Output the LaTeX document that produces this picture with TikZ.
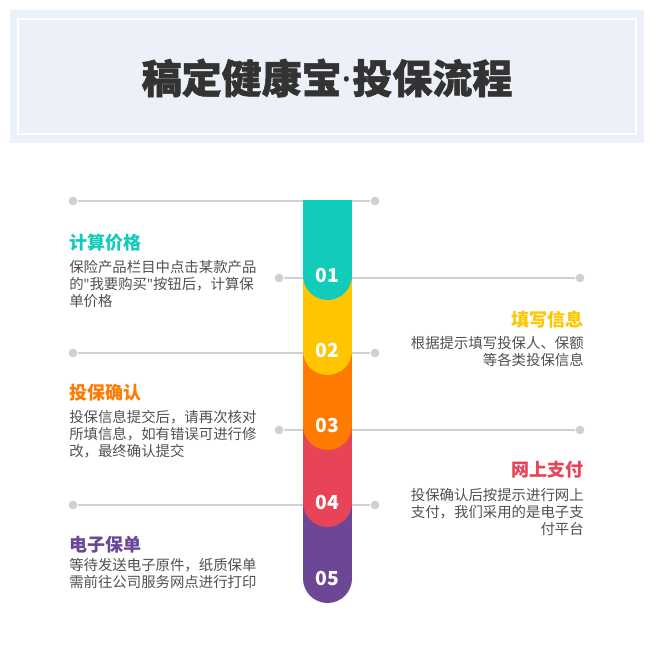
\documentclass[tikz,border=0pt]{standalone}
\usepackage{fontspec}
\setmainfont{Noto Sans CJK SC}
\newfontfamily\latinfont{Noto Sans}
\newfontfamily\heavyfont{Noto Sans CJK SC}[BoldFeatures={FakeBold=1.2}]
\definecolor{bandbg}{HTML}{ECF0F8}
\definecolor{titlegray}{HTML}{333333}
\definecolor{bodygray}{HTML}{505050}
\definecolor{linegray}{HTML}{D0D0D0}
\definecolor{stepteal}{HTML}{12CCBB}
\definecolor{stepyellow}{HTML}{FFC600}
\definecolor{steporange}{HTML}{FF7A00}
\definecolor{stepred}{HTML}{E84458}
\definecolor{steppurple}{HTML}{6B4796}

\begin{document}
\begin{tikzpicture}[x=0.75pt, y=-0.75pt,
    dot/.style={circle, fill=linegray, inner sep=0pt, minimum size=6.5pt},
    guide/.style={draw=linegray, line width=2pt},
    numdisc/.style={circle, inner sep=0pt, minimum size=36.75pt, text=white, font=\fontsize{14.5}{16}\selectfont\bfseries},
    steptitle/.style={inner sep=0pt, font=\fontsize{13.5}{16}\selectfont\bfseries},
    stepbody/.style={inner sep=0pt, text=bodygray, font=\fontsize{10.8}{12.75}\selectfont}]
    \useasboundingbox (0,0) rectangle (654,654);

    % Title band
    \fill[bandbg] (10,10) rectangle (644,143);
    \draw[white, line width=1.2pt] (18,19) rectangle (636,134);
    \node[font=\fontsize{30}{34}\selectfont\heavyfont\bfseries, text=titlegray] (title) at (327,78) {稿定健康宝{\latinfont\bfseries ·}投保流程};

    % Guide lines with end dots
    \node[dot] (l1a) at (73,201) {};
    \node[dot] (l1b) at (375,201) {};
    \node[dot] (l2a) at (279,278) {};
    \node[dot] (l2b) at (580,278) {};
    \node[dot] (l3a) at (73,353) {};
    \node[dot] (l3b) at (375,353) {};
    \node[dot] (l4a) at (279,430) {};
    \node[dot] (l4b) at (580,430) {};
    \node[dot] (l5a) at (73,505) {};
    \node[dot] (l5b) at (375,505) {};
    \draw[guide] (l1a) -- (l1b);
    \draw[guide] (l2a) -- (l2b);
    \draw[guide] (l3a) -- (l3b);
    \draw[guide] (l4a) -- (l4b);
    \draw[guide] (l5a) -- (l5b);

    % Column, drawn from the bottom step up
    \fill[steppurple] (303,200) rectangle (352,578.5);
    \node[numdisc, fill=steppurple] (n5) at (327.5,578.5) {05};
    \fill[stepred] (303,200) rectangle (352,502.5);
    \node[numdisc, fill=stepred] (n4) at (327.5,502.5) {04};
    \fill[steporange] (303,200) rectangle (352,425.5);
    \node[numdisc, fill=steporange] (n3) at (327.5,425.5) {03};
    \fill[stepyellow] (303,200) rectangle (352,350.5);
    \node[numdisc, fill=stepyellow] (n2) at (327.5,350.5) {02};
    \fill[stepteal] (303,200) rectangle (352,275.5);
    \node[numdisc, fill=stepteal] (n1) at (327.5,275.5) {01};

    % Step 1
    \node[steptitle, text=stepteal, anchor=west] (t1) at (69,243) {计算价格};
    \node[stepbody, anchor=north west, align=left] (b1) at (69,260) {保险产品栏目中点击某款产品\\的{\latinfont"}我要购买{\latinfont"}按钮后，计算保\\单价格};

    % Step 2
    \node[steptitle, text=stepyellow, anchor=east] (t2) at (584,320) {填写信息};
    \node[stepbody, anchor=north east, align=right] (b2) at (584,336) {根据提示填写投保人、保额\\等各类投保信息};

    % Step 3
    \node[steptitle, text=steporange, anchor=west] (t3) at (69,393) {投保确认};
    \node[stepbody, anchor=north west, align=left] (b3) at (69,410) {投保信息提交后，请再次核对\\所填信息，如有错误可进行修\\改，最终确认提交};

    % Step 4
    \node[steptitle, text=stepred, anchor=east] (t4) at (584,470) {网上支付};
    \node[stepbody, anchor=north east, align=right] (b4) at (584,488) {投保确认后按提示进行网上\\支付，我们采用的是电子支\\付平台};

    % Step 5
    \node[steptitle, text=steppurple, anchor=west] (t5) at (69,545) {电子保单};
    \node[stepbody, anchor=north west, align=left] (b5) at (69,558) {等待发送电子原件，纸质保单\\需前往公司服务网点进行打印};
\end{tikzpicture}
\end{document}
